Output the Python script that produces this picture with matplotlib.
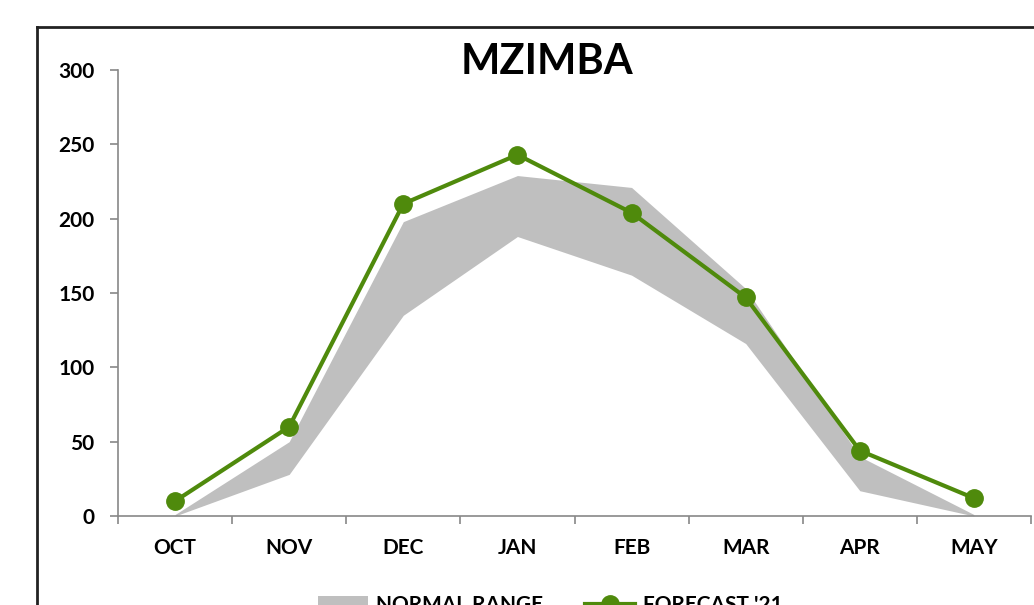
import numpy as np
import matplotlib
matplotlib.use('Agg')
import matplotlib.pyplot as plt
from matplotlib.patches import Patch
from matplotlib.lines import Line2D

# datos
meses = ['OCT', 'NOV', 'DEC', 'JAN', 'FEB', 'MAR', 'APR', 'MAY']
pronostico = [10, 60, 210, 243, 204, 147, 44, 12]
rango_min = [0, 28, 135, 188, 162, 116, 17, 0]
rango_max = [1, 50, 198, 229, 221, 153, 40, 1]

verde = '#4f8a0c'
gris = '#bfbfbf'
plt.rcParams['font.family'] = ['Lato', 'DejaVu Sans']
plt.rcParams['font.weight'] = 'bold'

fig = plt.figure(figsize=(10.34, 6.05), dpi=100)
ax = fig.add_axes([118/1034, 1 - 516/605, (1031 - 118)/1034, (516 - 70)/605])

x = np.arange(len(meses))
# banda de rango normal
ax.fill_between(x, rango_min, rango_max, color=gris, linewidth=0, zorder=1)
# linea del pronostico
ax.plot(x, pronostico, color=verde, linewidth=3, marker='o', markersize=12.5, zorder=3)

ax.set_xlim(-0.5, len(meses) - 0.5)
ax.set_ylim(0, 300)
ax.set_yticks(range(0, 301, 50))
ax.set_xticks(x, meses)
ax.set_xticks(np.arange(-0.5, len(meses), 1), minor=True)
ax.tick_params(axis='x', which='major', length=0, pad=16, labelsize=15)
ax.tick_params(axis='x', which='minor', length=6, color='#888888', width=1.2)
ax.tick_params(axis='y', length=6, color='#888888', width=1.2, pad=11, labelsize=15)
for s in ['top', 'right']:
    ax.spines[s].set_visible(False)
for s in ['left', 'bottom']:
    ax.spines[s].set_color('#888888')
    ax.spines[s].set_linewidth(1.2)

# titulo
fig.text(547/1034, 1 - 62/605, 'MZIMBA', ha='center', va='center', fontsize=30, fontweight='bold')

# marco exterior
fig.add_artist(Line2D([37/1034, 1], [1 - 27/605, 1 - 27/605], color='#222222', linewidth=2, transform=fig.transFigure))
fig.add_artist(Line2D([37/1034, 37/1034], [0, 1 - 27/605], color='#222222', linewidth=2, transform=fig.transFigure))

# leyenda
handles = [Patch(facecolor=gris, edgecolor='none'),
           Line2D([], [], color=verde, linewidth=3, marker='o', markersize=12.5)]
fig.legend(handles, ['NORMAL RANGE', "FORECAST '21"], loc='center', bbox_to_anchor=(0.532, 0.0),
           ncol=2, frameon=False, fontsize=15, handlelength=2.4, handletextpad=0.4,
           columnspacing=2.0)

fig.savefig('out.png', dpi=100)
